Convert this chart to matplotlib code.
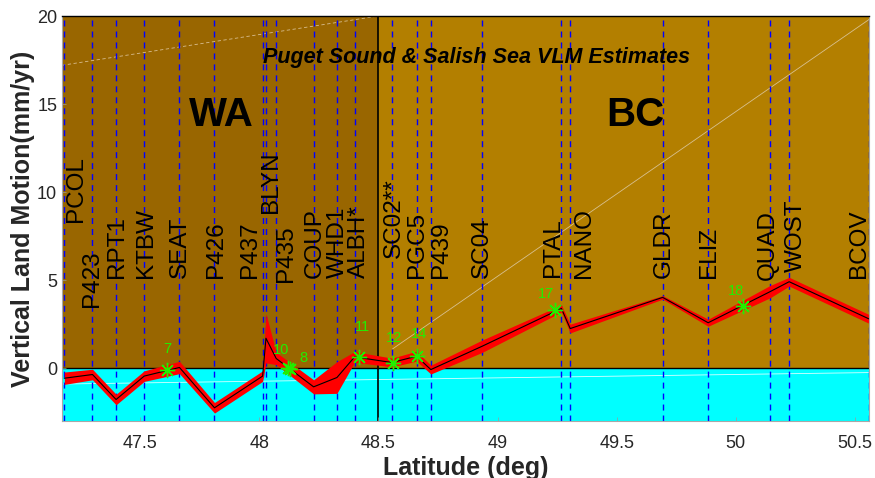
import matplotlib
matplotlib.use("Agg")
import matplotlib.pyplot as plt
import numpy as np

plt.rcParams['font.family'] = ['Liberation Sans', 'DejaVu Sans']

# ---- data ----
stations = ['PCOL', 'P423', 'RPT1', 'KTBW', 'SEAT', 'P426', 'P437', 'BLYN', 'P435',
            'COUP', 'WHD1', 'ALBH*', 'SC02**', 'PGC5', 'P439', 'SC04', 'PTAL', 'NANO',
            'GLDR', 'ELIZ', 'QUAD', 'WOST', 'BCOV']
lats = [47.182, 47.300, 47.399, 47.517, 47.665, 47.812, 48.014, 48.028, 48.071,
        48.228, 48.326, 48.400, 48.557, 48.660, 48.720, 48.936, 49.268, 49.305,
        49.693, 49.884, 50.143, 50.224, 50.557]
vlm = [-0.57, -0.36, -1.78, -0.45, 0.04, -2.25, -0.45, 1.70, 0.55,
       -1.06, -0.53, 0.64, 0.32, 0.68, -0.08, 1.25, 3.39, 2.25,
       4.02, 2.58, 4.34, 4.91, 2.81]
vlm_err = [0.35, 0.30, 0.30, 0.30, 0.35, 0.30, 0.30, 1.40, 0.35,
           0.40, 0.90, 0.30, 0.25, 0.28, 0.25, 0.35, 0.20, 0.25,
           0.10, 0.20, 0.35, 0.25, 0.25]

# station label placement (text layout)
label_x = [47.230, 47.297, 47.403, 47.523, 47.668, 47.818, 47.960, 48.048, 48.114,
           48.231, 48.332, 48.417, 48.564, 48.663, 48.761, 48.936, 49.234, 49.361,
           49.699, 49.889, 50.133, 50.253, 50.518]
label_y = [8.3, 3.47, 5.1, 5.1, 5.1, 5.1, 5.1, 8.8, 4.9,
           5.1, 5.1, 5.1, 6.25, 5.1, 5.1, 5.1, 5.15, 5.1,
           5.1, 5.1, 5.0, 5.47, 5.1]

# tide gauge points
gauge_ids = ['7', '10', '8', '11', '12', '14', '17', '18']
gauge_lats = [47.612, 48.122, 48.130, 48.417, 48.560, 48.663, 49.241, 50.031]
gauge_vlm = [-0.11, 0.02, -0.02, 0.64, 0.32, 0.68, 3.30, 3.52]
gauge_text_off = [(0.6, 21), (-7, 18), (13, 11), (4, 30), (1, 25), (1.6, 22), (-8.6, 16), (-7.3, 15)]

regions = ['WA', 'BC']
region_text_lat = [47.843, 49.58]
border_lat = 48.5
xlim = (47.172, 50.559)
ylim = (-3, 20)
xticks = [47.5, 48, 48.5, 49, 49.5, 50, 50.5]
xticklabels = ['47.5', '48', '48.5', '49', '49.5', '50', '50.5']
yticks = [0, 5, 10, 15, 20]

# ---- figure ----
fig = plt.figure(figsize=(8.75, 4.78), dpi=100)
ax = fig.add_axes([62 / 875, 57 / 478, 807 / 875, 405 / 478])
ax.set_xlim(*xlim)
ax.set_ylim(*ylim)

wa_col = '#996600'
bc_col = '#b37f00'
ax.fill_between([xlim[0], border_lat], 0, ylim[1], color=wa_col, lw=0, zorder=0)
ax.fill_between([border_lat, xlim[1]], 0, ylim[1], color=bc_col, lw=0, zorder=0)
ax.fill_between([xlim[0], xlim[1]], ylim[0], 0, color='#00ffff', lw=0, zorder=0)

# faint rendering artifact lines seen in the reference
ax.plot([xlim[0], border_lat], [17.2, 20], color='#d8bd8f', lw=0.6, ls=(0, (4, 3)), zorder=0.5)
ax.plot([48.56, xlim[1]], [1.1, 19.8], color='#d8c08f', lw=0.6, zorder=0.5)
ax.plot([xlim[0], xlim[1]], [-0.9, -0.25], color='#d8ffff', lw=0.6, zorder=0.5)

# station dashed lines
for la in lats:
    ax.axvline(la, color='#0000ff', lw=1.0, ls=(0, (4.3, 3.6)), zorder=1)

ax.axhline(0, color='black', lw=1.0, zorder=1.5)
ax.axvline(border_lat, color='black', lw=1.2, zorder=1.5)

lats_a = np.array(lats)
v = np.array(vlm)
e = np.array(vlm_err)
ax.fill_between(lats_a, v - e, v + e, color='#ff0000', lw=0, zorder=2)
ax.plot(lats_a, v, color='black', lw=0.8, zorder=3)

ax.plot(gauge_lats, gauge_vlm, ls='none', marker=(8, 2, 0), ms=11, mew=1.0,
        color='#22ee00', zorder=4)
for gid, gx, gy, off in zip(gauge_ids, gauge_lats, gauge_vlm, gauge_text_off):
    ax.annotate(gid, (gx, gy), xytext=off, textcoords='offset pixels',
                ha='center', va='center', fontsize=10.5, color='#22ee00', zorder=5)

for name, lx, ly in zip(stations, label_x, label_y):
    ax.text(lx, ly, name, rotation=90, ha='center', va='bottom',
            fontsize=17.5, color='black', zorder=5)

for reg, rx in zip(regions, region_text_lat):
    ax.text(rx, 14.4, reg, ha='center', va='center', fontsize=29,
            fontweight='bold', color='black', zorder=5)

ax.text(48.91, 17.67, 'Puget Sound & Salish Sea VLM Estimates', ha='center', va='center',
        fontsize=15.5, fontweight='bold', fontstyle='italic', color='black', zorder=5)

ax.set_xticks(xticks)
ax.set_xticklabels(xticklabels)
ax.set_yticks(yticks)
ax.tick_params(direction='in', length=3, width=0.5, colors='#9a9a9a',
               labelcolor='#262626', labelsize=13)
ax.tick_params(axis='x', pad=10)

ax.set_xlabel('Latitude (deg)', fontsize=18, fontweight='bold', color='#262626')
ax.set_ylabel('Vertical Land Motion(mm/yr)', fontsize=18, fontweight='bold', color='#262626')
ax.xaxis.label.set_va('baseline')
ax.xaxis.set_label_coords(0.5, -0.1333)
ax.yaxis.set_label_coords(-0.034, 0.5)

for s in ['left', 'right', 'bottom']:
    ax.spines[s].set_color('#a8a8a8')
    ax.spines[s].set_linewidth(0.8)
ax.spines['top'].set_color('black')
ax.spines['top'].set_linewidth(1.0)

fig.savefig('out.png', dpi=100)
